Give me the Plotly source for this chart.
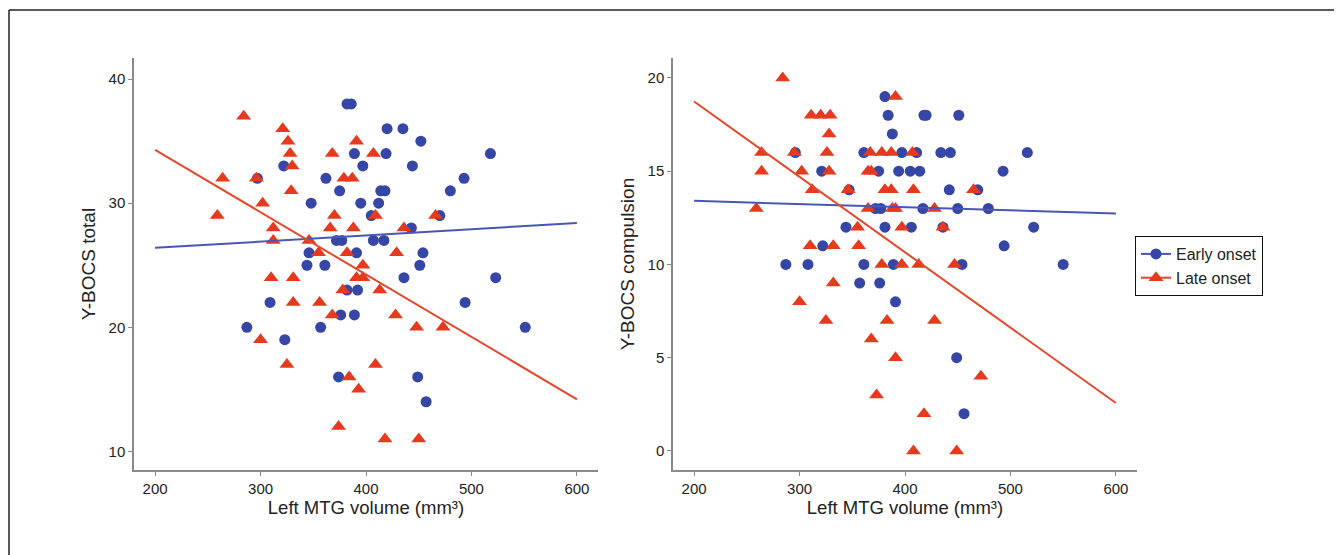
import plotly.graph_objects as go

# ---------------- data ----------------
# Left panel: Y-BOCS total vs Left MTG volume
early_total_x = [382, 386, 420, 435, 452, 389, 419, 518, 322, 397, 444, 297, 362, 493,
                 375, 414, 418, 480, 348, 395, 412, 405, 470, 443, 372, 377, 407, 417,
                 346, 391, 454, 344, 361, 451, 436, 523, 382, 392, 309, 494, 376, 389,
                 287, 357, 551, 323, 374, 449, 457]
early_total_y = [38, 38, 36, 36, 35, 34, 34, 34, 33, 33, 33, 32, 32, 32,
                 31, 31, 31, 31, 30, 30, 30, 29, 29, 28, 27, 27, 27, 27,
                 26, 26, 26, 25, 25, 25, 24, 24, 23, 23, 22, 22, 21, 21,
                 20, 20, 20, 19, 16, 16, 14]

late_total_x = [284, 321, 326, 391, 328, 368, 407, 330, 264, 296, 379, 387, 329, 302,
                259, 370, 409, 466, 312, 366, 388, 436, 312, 346, 355, 382, 429, 397,
                310, 331, 391, 397, 378, 413, 331, 356, 368, 428, 448, 473, 300, 325,
                409, 384, 393, 374, 418, 450]
late_total_y = [37, 36, 35, 35, 34, 34, 34, 33, 32, 32, 32, 32, 31, 30,
                29, 29, 29, 29, 28, 28, 28, 28, 27, 27, 26, 26, 26, 25,
                24, 24, 24, 24, 23, 23, 22, 22, 21, 21, 20, 20, 19, 17,
                17, 16, 15, 12, 11, 11]

# Right panel: Y-BOCS compulsion vs Left MTG volume
early_comp_x = [381, 384, 418, 420, 451, 388, 296, 361, 397, 411, 434, 443, 516,
                321, 375, 394, 405, 414, 493, 347, 442, 469, 372, 377, 417, 450, 479,
                344, 381, 406, 436, 522, 322, 494, 287, 308, 361, 389, 454, 550,
                357, 376, 391, 449, 456]
early_comp_y = [19, 18, 18, 18, 18, 17, 16, 16, 16, 16, 16, 16, 16,
                15, 15, 15, 15, 15, 15, 14, 14, 14, 13, 13, 13, 13, 13,
                12, 12, 12, 12, 12, 11, 11, 10, 10, 10, 10, 10, 10,
                9, 9, 8, 5, 2]

late_comp_x = [284, 391, 311, 320, 329, 328, 264, 295, 326, 367, 378, 387, 407,
               264, 302, 328, 365, 368, 312, 346, 381, 387, 408, 465, 259, 365, 388,
               391, 428, 355, 397, 436, 310, 332, 356, 378, 397, 413, 447, 332, 300,
               325, 383, 428, 368, 391, 472, 373, 418, 408, 449]
late_comp_y = [20, 19, 18, 18, 18, 17, 16, 16, 16, 16, 16, 16, 16,
               15, 15, 15, 15, 15, 14, 14, 14, 14, 14, 14, 13, 13, 13,
               13, 13, 12, 12, 12, 11, 11, 11, 10, 10, 10, 10, 9, 8,
               7, 7, 7, 6, 5, 4, 3, 2, 0, 0]

# Fitted regression lines (end points)
fit_x = [200, 600]
early_total_fit = [26.4, 28.4]
late_total_fit = [34.3, 14.2]
early_comp_fit = [13.41, 12.73]
late_comp_fit = [18.74, 2.57]

x_ticks = [200, 300, 400, 500, 600]
total_ticks = [10, 20, 30, 40]
comp_ticks = [0, 5, 10, 15, 20]

series_names = ["Early onset", "Late onset"]
x_title = "Left MTG volume (mm³)"
y_titles = ["Y-BOCS total", "Y-BOCS compulsion"]

# ---------------- style ----------------
W, H = 1342, 555
OFF = 8  # page body margin offset
BLUE = "#3546a6"
RED = "#e6391e"
BLUE_LINE = "#4a56b3"
RED_LINE = "#e4482c"
FONT = "Liberation Sans, Arial, sans-serif"
AXC = "#8a8a8a"


def px(x):
    return (x - OFF) / W


def py(y):
    return 1 - (y - OFF) / H


fig = go.Figure()


def add_panel(xa, ya, ex, ey, lx, ly, efit, lfit):
    fig.add_trace(go.Scatter(x=ex, y=ey, mode="markers", xaxis=xa, yaxis=ya,
                             marker=dict(symbol="circle", size=11, color=BLUE),
                             showlegend=False, hoverinfo="x+y"))
    fig.add_trace(go.Scatter(x=lx, y=ly, mode="markers", xaxis=xa, yaxis=ya,
                             marker=dict(symbol="triangle-up", size=13, color=RED),
                             showlegend=False, hoverinfo="x+y"))
    fig.add_trace(go.Scatter(x=fit_x, y=efit, mode="lines", xaxis=xa, yaxis=ya,
                             line=dict(color=BLUE_LINE, width=2), showlegend=False))
    fig.add_trace(go.Scatter(x=fit_x, y=lfit, mode="lines", xaxis=xa, yaxis=ya,
                             line=dict(color=RED_LINE, width=2), showlegend=False))


add_panel("x", "y", early_total_x, early_total_y, late_total_x, late_total_y,
          early_total_fit, late_total_fit)
add_panel("x2", "y2", early_comp_x, early_comp_y, late_comp_x, late_comp_y,
          early_comp_fit, late_comp_fit)

# legend entries (line + marker glyph)
fig.add_trace(go.Scatter(x=[None], y=[None], mode="lines+markers", name=series_names[0],
                         marker=dict(symbol="circle", size=11, color=BLUE),
                         line=dict(color=BLUE_LINE, width=2), xaxis="x2", yaxis="y2"))
fig.add_trace(go.Scatter(x=[None], y=[None], mode="lines+markers", name=series_names[1],
                         marker=dict(symbol="triangle-up", size=13, color=RED),
                         line=dict(color=RED_LINE, width=2), xaxis="x2", yaxis="y2"))

ydom = [py(470), py(58)]


def xaxis_style(domain, anchor):
    return dict(domain=domain, anchor=anchor, range=[180, 620], tickvals=x_ticks,
                ticks="outside", ticklen=4, tickcolor=AXC, tickwidth=1,
                showline=True, linecolor=AXC, linewidth=1.5, showgrid=False,
                zeroline=False, automargin=False,
                tickfont=dict(size=15, color="#222", family=FONT),
                title=dict(text=x_title, font=dict(size=18.5, color="#222", family=FONT),
                           standoff=5))


def yaxis_style(rng, ticks, title, anchor):
    return dict(domain=ydom, anchor=anchor, range=rng, tickvals=ticks,
                ticks="outside", ticklen=4, tickcolor=AXC, tickwidth=1,
                showline=True, linecolor=AXC, linewidth=1.5, showgrid=False,
                zeroline=False, automargin=False,
                tickfont=dict(size=15, color="#222", family=FONT),
                title=dict(text=title, font=dict(size=19, color="#222", family=FONT),
                           standoff=8))


fig.update_layout(
    width=W, height=H,
    margin=dict(l=0, r=0, t=0, b=0),
    paper_bgcolor="white", plot_bgcolor="white",
    font=dict(family=FONT, color="#222"),
    xaxis=xaxis_style([px(134), px(598)], "y"),
    yaxis=yaxis_style([8.5, 41.7], total_ticks, y_titles[0], "x"),
    xaxis2=xaxis_style([px(673), px(1137)], "y2"),
    yaxis2=yaxis_style([-1.02, 21.07], comp_ticks, y_titles[1], "x2"),
    legend=dict(x=px(1135), xanchor="left", y=py(236), yanchor="top",
                bordercolor="#111", borderwidth=1, bgcolor="white",
                font=dict(size=16, color="#222", family=FONT),
                tracegroupgap=0),
    shapes=[
        dict(type="line", xref="paper", yref="paper", x0=px(9), x1=1.0,
             y0=py(10), y1=py(10), line=dict(color="#222", width=1.5)),
        dict(type="line", xref="paper", yref="paper", x0=px(9), x1=px(9),
             y0=0, y1=py(10), line=dict(color="#222", width=1.5)),
    ],
)

fig.write_html("out.html")
